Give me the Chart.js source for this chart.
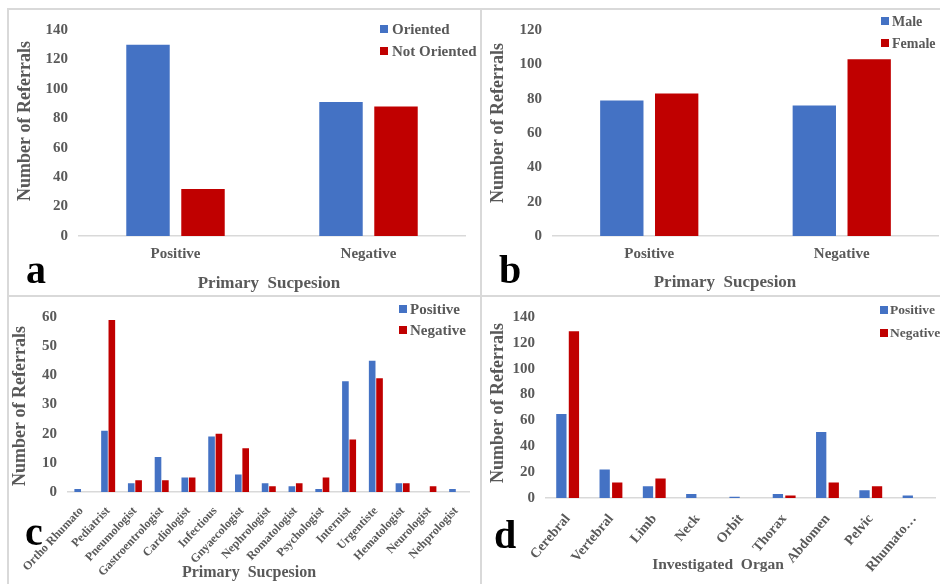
<!DOCTYPE html>
<html>
<head>
<meta charset="utf-8">
<script src="https://cdn.jsdelivr.net/npm/chart.js@4.4.1/dist/chart.umd.min.js"></script>
<style>
  body { margin: 0; background: #fff; width: 940px; height: 584px; overflow: hidden; position: relative; }
  .panel { position: absolute; border: 2px solid #d9d9d9; box-sizing: border-box; }
  canvas { position: absolute; }
  .tag { position: absolute; font: bold 40px "Liberation Serif", serif; line-height: 40px; color: #000; }
</style>
</head>
<body>
<div class="panel" style="left:7px;top:8px;width:475px;height:289px"></div>
<div class="panel" style="left:480px;top:8px;width:470px;height:289px"></div>
<div class="panel" style="left:7px;top:295px;width:475px;height:300px"></div>
<div class="panel" style="left:480px;top:295px;width:470px;height:300px"></div>

<canvas id="chartA" width="470" height="284" style="left:9px;top:10px"></canvas>
<canvas id="chartB" width="458" height="284" style="left:482px;top:10px"></canvas>
<canvas id="chartC" width="470" height="287" style="left:9px;top:297px"></canvas>
<canvas id="chartD" width="458" height="287" style="left:482px;top:297px"></canvas>

<div class="tag" style="left:26px;top:250px">a</div>
<div class="tag" style="left:499px;top:250px">b</div>
<div class="tag" style="left:25px;top:512px">c</div>
<div class="tag" style="left:494px;top:515px">d</div>

<script>
// Panel a / b: primary suspicion
const suspicionLabels = ['Positive', 'Negative'];
const orientedCounts = [130, 91];
const notOrientedCounts = [32, 88];
const maleCounts = [79, 76];
const femaleCounts = [83, 103];

// Panel c: referring specialty
const specialtyLabels = ['Ortho Rhumato', 'Pediatrist', 'Pneumologist', 'Gastroentrologist', 'Cardiologist',
    'Infectious', 'Gnyaecologist', 'Nephrologist', 'Romatologist', 'Psychologist', 'Internist',
    'Urgentiste', 'Hematologist', 'Neurologist', 'Nehprologist'];
const specialtyPositive = [1, 21, 3, 12, 5, 19, 6, 3, 2, 1, 38, 45, 3, 0, 1];
const specialtyNegative = [0, 59, 4, 4, 5, 20, 15, 2, 3, 5, 18, 39, 3, 2, 0];

// Panel d: investigated organ
const organLabels = ['Cerebral', 'Vertebral', 'Limb', 'Neck', 'Orbit', 'Thorax', 'Abdomen', 'Pelvic', 'Rhumato\u2026'];
const organPositive = [65, 22, 9, 3, 1, 3, 51, 6, 2];
const organNegative = [129, 12, 15, 0, 0, 2, 12, 9, 0];

const BLUE = '#4472C4';
const RED = '#C00000';
const GREY = '#595959';
const SERIF = '"Liberation Serif", "Times New Roman", serif';

// legend drawn inside the plot, top right, two rows
const cornerLegend = {
    id: 'cornerLegend',
    afterDraw(chart, args, opts) {
        const ctx = chart.ctx;
        ctx.save();
        ctx.font = 'bold ' + opts.size + 'px ' + SERIF;
        ctx.textBaseline = 'middle';
        ctx.textAlign = 'left';
        chart.data.datasets.forEach((ds, i) => {
            const y = opts.y + i * opts.rowGap;
            ctx.fillStyle = ds.backgroundColor;
            ctx.fillRect(opts.x, y - 4, 8, 8);
            ctx.fillStyle = GREY;
            ctx.fillText(ds.label, opts.x + opts.textGap, y + 1);
        });
        ctx.restore();
    }
};

// axis titles, placed like the Excel originals (not always centred on the axis)
const axisCaptions = {
    id: 'axisCaptions',
    afterDraw(chart, args, opts) {
        const ctx = chart.ctx;
        ctx.save();
        ctx.fillStyle = GREY;
        ctx.textAlign = 'center';
        ctx.textBaseline = 'middle';
        ctx.font = 'bold ' + opts.x.size + 'px ' + SERIF;
        ctx.fillText(opts.x.text, opts.x.cx, opts.x.cy);
        ctx.translate(opts.y.cx, opts.y.cy);
        ctx.rotate(-Math.PI / 2);
        ctx.font = 'bold ' + opts.y.size + 'px ' + SERIF;
        ctx.fillText(opts.y.text, 0, 0);
        ctx.restore();
    }
};

function makeChart(id, labels, series, cfg) {
    const ctx = document.getElementById(id).getContext('2d');
    return new Chart(ctx, {
        type: 'bar',
        data: {
            labels: labels,
            datasets: series.map(s => ({
                label: s.label,
                data: s.data,
                backgroundColor: s.color,
                borderWidth: 0,
                categoryPercentage: cfg.catPct,
                barPercentage: cfg.barPct
            }))
        },
        options: {
            responsive: false,
            animation: false,
            layout: { padding: { top: cfg.padTop, right: cfg.padRight, left: 0, bottom: 0 } },
            plugins: {
                legend: { display: false },
                tooltip: { enabled: false },
                cornerLegend: cfg.legend,
                axisCaptions: cfg.captions
            },
            scales: {
                x: {
                    grid: { display: false, drawTicks: false },
                    border: { display: true, color: '#d9d9d9', width: 1.5 },
                    ticks: {
                        color: GREY,
                        font: { family: SERIF, size: cfg.xTickSize, weight: 'bold' },
                        padding: cfg.xTickPad,
                        minRotation: cfg.rotate,
                        maxRotation: cfg.rotate,
                        autoSkip: false
                    },
                    afterFit: scale => { scale.height = cfg.xHeight; }
                },
                y: {
                    min: 0,
                    max: cfg.yMax,
                    grid: { display: false, drawTicks: false },
                    border: { display: false },
                    ticks: {
                        stepSize: cfg.yStep,
                        color: GREY,
                        font: { family: SERIF, size: 15, weight: 'bold' },
                        padding: 11
                    },
                    afterFit: scale => { scale.width = cfg.yWidth; }
                }
            }
        },
        plugins: [cornerLegend, axisCaptions]
    });
}

makeChart('chartA', suspicionLabels, [
    { label: 'Oriented', data: orientedCounts, color: BLUE },
    { label: 'Not Oriented', data: notOrientedCounts, color: RED }
], {
    catPct: 0.57, barPct: 0.79, padTop: 13, padRight: 14, yWidth: 70, xHeight: 58,
    yMax: 140, yStep: 20, xTickSize: 15, xTickPad: 9, rotate: 0,
    legend: { x: 371, y: 19, rowGap: 22, size: 15, textGap: 12 },
    captions: {
        x: { text: 'Primary  Sucpesion', cx: 260, cy: 274, size: 17 },
        y: { text: 'Number of Referrals', cx: 16.5, cy: 111, size: 18 }
    }
});

makeChart('chartB', suspicionLabels, [
    { label: 'Male', data: maleCounts, color: BLUE },
    { label: 'Female', data: femaleCounts, color: RED }
], {
    catPct: 0.57, barPct: 0.79, padTop: 13, padRight: 2, yWidth: 71, xHeight: 58,
    yMax: 120, yStep: 20, xTickSize: 15, xTickPad: 9, rotate: 0,
    legend: { x: 399, y: 11, rowGap: 22, size: 14, textGap: 11 },
    captions: {
        x: { text: 'Primary  Sucpesion', cx: 243, cy: 273, size: 17 },
        y: { text: 'Number of Referrals', cx: 16.3, cy: 113, size: 18 }
    }
});

makeChart('chartC', specialtyLabels, [
    { label: 'Positive', data: specialtyPositive, color: BLUE },
    { label: 'Negative', data: specialtyNegative, color: RED }
], {
    catPct: 0.55, barPct: 0.9, padTop: 16, padRight: 9, yWidth: 59, xHeight: 92,
    yMax: 60, yStep: 10, xTickSize: 12, xTickPad: 12, rotate: 47,
    legend: { x: 390, y: 12, rowGap: 21, size: 15, textGap: 11 },
    captions: {
        x: { text: 'Primary  Sucpesion', cx: 240, cy: 276, size: 16 },
        y: { text: 'Number of Referrals', cx: 11, cy: 109, size: 18 }
    }
});

makeChart('chartD', organLabels, [
    { label: 'Positive', data: organPositive, color: BLUE },
    { label: 'Negative', data: organNegative, color: RED }
], {
    catPct: 0.58, barPct: 0.82, padTop: 15, padRight: 1, yWidth: 64, xHeight: 86,
    yMax: 140, yStep: 20, xTickSize: 14, xTickPad: 13, rotate: 50,
    legend: { x: 398, y: 13, rowGap: 23, size: 13.5, textGap: 10 },
    captions: {
        x: { text: 'Investigated  Organ', cx: 236, cy: 268, size: 15.5 },
        y: { text: 'Number of Referrals', cx: 16, cy: 106, size: 18 }
    }
});
</script>
</body>
</html>
